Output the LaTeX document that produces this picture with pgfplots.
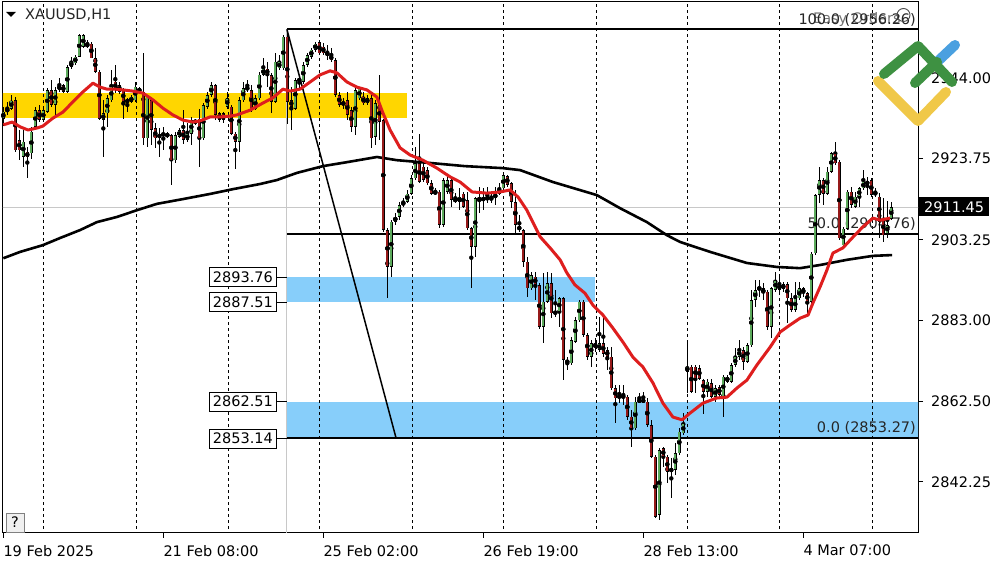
\documentclass[border=0pt]{standalone}
\usepackage{pgfplots}
\pgfplotsset{compat=1.18}
\usepackage{pgfplotstable}
\usepackage{fontspec}
\setmainfont{DejaVu Sans}
\definecolor{bullg}{RGB}{92,170,92}
\definecolor{bearr}{RGB}{150,26,26}
\definecolor{mared}{RGB}{222,30,30}
\definecolor{goldb}{RGB}{255,214,0}
\definecolor{skyb}{RGB}{135,206,250}
\definecolor{lgreen}{RGB}{62,145,66}
\definecolor{lblue}{RGB}{74,160,224}
\definecolor{lyellow}{RGB}{240,200,72}
\definecolor{lgray}{RGB}{200,200,200}
\newcommand\fs{\fontsize{14.5bp}{17bp}\selectfont}

\pgfplotstableread{
i o h l c
0 2933.8 2936.8 2932.0 2935.5
1 2935.5 2938.0 2934.6 2936.3
2 2936.3 2939.7 2935.9 2938.3
3 2938.4 2939.3 2925.4 2925.8
4 2928.4 2930.9 2923.3 2925.8
5 2924.2 2930.9 2921.6 2928.0
6 2925.4 2926.7 2918.7 2924.0
7 2925.0 2931.7 2923.7 2930.5
8 2931.7 2936.8 2930.9 2935.9
9 2935.9 2937.2 2933.0 2933.4
10 2933.4 2936.3 2933.0 2935.9
11 2935.5 2941.4 2935.1 2941.0
12 2941.0 2943.5 2936.8 2937.2
13 2937.2 2941.8 2934.2 2941.0
14 2941.0 2943.9 2940.5 2942.2
15 2942.2 2942.6 2940.1 2940.5
16 2940.5 2947.3 2940.1 2946.8
17 2946.8 2949.4 2946.4 2948.1
18 2947.7 2949.8 2947.3 2949.4
19 2949.4 2955.2 2949.2 2954.8
20 2951.9 2955.2 2951.5 2954.8
21 2952.7 2953.6 2951.5 2951.9
22 2952.7 2953.1 2949.0 2949.0
23 2949.0 2951.5 2945.2 2945.6
24 2945.6 2946.0 2933.4 2933.8
25 2933.4 2938.4 2924.2 2935.1
26 2935.1 2939.7 2931.7 2938.9
27 2938.4 2946.0 2938.0 2941.8
28 2943.1 2947.3 2940.1 2941.0
29 2942.2 2943.1 2940.1 2940.5
30 2941.0 2941.4 2933.8 2938.0
31 2938.4 2938.9 2935.5 2938.0
32 2938.0 2939.7 2937.6 2939.3
33 2938.4 2943.1 2938.0 2941.8
34 2941.4 2941.8 2940.1 2940.5
35 2940.5 2950.2 2927.1 2928.8
36 2928.8 2939.7 2926.7 2939.3
37 2938.4 2938.9 2927.1 2930.9
38 2931.3 2932.6 2926.3 2928.8
39 2930.0 2931.3 2924.2 2928.8
40 2929.6 2931.7 2925.8 2930.0
41 2930.0 2930.5 2928.8 2929.2
42 2929.6 2930.0 2917.0 2923.3
43 2923.3 2930.5 2922.5 2929.6
44 2929.2 2931.3 2928.8 2930.9
45 2930.9 2935.9 2927.5 2928.4
46 2928.4 2932.6 2927.9 2930.0
47 2930.0 2934.2 2927.1 2933.4
48 2933.4 2933.8 2932.2 2932.6
49 2933.8 2936.3 2921.6 2928.8
50 2928.8 2937.6 2928.4 2937.2
51 2936.8 2940.5 2936.3 2939.7
52 2939.7 2943.1 2939.3 2942.2
53 2942.2 2942.6 2933.4 2934.7
54 2935.1 2935.5 2933.0 2933.4
55 2935.1 2935.5 2932.6 2933.4
56 2936.8 2940.5 2936.3 2938.9
57 2936.8 2937.2 2929.6 2930.0
58 2930.0 2930.5 2921.2 2927.9
59 2927.9 2939.3 2925.4 2938.4
60 2938.4 2943.1 2938.0 2941.4
61 2941.8 2943.5 2940.6 2941.0
62 2941.0 2942.2 2935.5 2935.9
63 2936.3 2939.7 2935.9 2938.9
64 2938.9 2945.6 2938.4 2944.8
65 2944.8 2949.0 2944.4 2946.4
66 2946.4 2948.1 2941.8 2944.8
67 2944.8 2945.2 2935.1 2938.0
68 2938.0 2950.2 2937.6 2948.1
69 2946.4 2949.8 2946.0 2948.1
70 2946.4 2954.8 2946.0 2954.4
71 2954.4 2956.26 2932.5 2938.0
72 2938.4 2941.8 2930.9 2936.8
73 2936.3 2943.9 2935.9 2943.5
74 2943.9 2944.7 2941.0 2943.1
75 2943.1 2948.1 2942.6 2947.3
76 2947.3 2950.2 2946.8 2949.8
77 2949.4 2951.5 2948.9 2951.1
78 2951.1 2953.1 2950.6 2952.7
79 2953.1 2953.6 2949.8 2950.2
80 2951.9 2952.7 2949.8 2950.2
81 2950.2 2952.3 2948.5 2950.0
82 2949.8 2951.5 2948.1 2948.5
83 2948.5 2949.0 2939.3 2939.7
84 2939.7 2940.5 2936.8 2937.2
85 2938.0 2938.9 2936.3 2937.2
86 2938.4 2940.5 2933.4 2934.7
87 2935.9 2936.8 2930.5 2931.7
88 2931.7 2941.8 2929.6 2941.0
89 2938.9 2941.8 2938.5 2941.4
90 2939.3 2940.5 2937.2 2937.6
91 2937.6 2939.7 2937.2 2938.9
92 2938.9 2939.7 2926.3 2928.8
93 2929.2 2938.5 2927.1 2937.6
94 2937.2 2944.7 2928.4 2933.0
95 2933.4 2933.8 2905.3 2905.7
96 2905.7 2906.1 2888.5 2896.5
97 2896.5 2908.2 2894.0 2907.8
98 2907.8 2909.9 2907.0 2909.1
99 2909.1 2912.8 2908.2 2912.0
100 2912.0 2913.7 2911.6 2912.8
101 2912.8 2915.8 2912.4 2914.9
102 2914.9 2919.6 2914.5 2918.7
103 2918.7 2926.7 2918.3 2922.5
104 2922.5 2930.0 2917.5 2917.9
105 2921.7 2922.5 2917.9 2918.3
106 2920.8 2921.7 2917.0 2917.5
107 2917.5 2918.3 2914.5 2914.9
108 2914.9 2916.2 2914.5 2915.4
109 2915.4 2915.8 2906.1 2907.0
110 2907.0 2918.7 2906.5 2918.3
111 2915.4 2919.1 2914.9 2918.3
112 2918.3 2918.7 2911.6 2913.3
113 2913.7 2915.0 2912.4 2912.8
114 2912.8 2916.2 2910.8 2914.1
115 2914.9 2915.4 2911.2 2911.6
116 2913.3 2915.4 2905.7 2906.1
117 2906.1 2906.5 2891.0 2901.5
118 2901.5 2914.1 2899.0 2913.7
119 2913.7 2916.6 2909.9 2913.3
120 2913.3 2916.2 2910.8 2913.7
121 2913.3 2916.6 2912.4 2914.1
122 2913.4 2915.4 2912.4 2913.9
123 2913.7 2916.6 2912.0 2914.9
124 2914.9 2917.5 2914.5 2916.2
125 2916.2 2920.0 2915.8 2919.6
126 2919.3 2919.6 2916.6 2917.1
127 2917.5 2917.9 2911.2 2912.8
128 2912.8 2915.8 2904.5 2907.0
129 2906.7 2909.5 2905.3 2905.7
130 2905.7 2906.1 2896.5 2897.7
131 2897.7 2899.0 2888.9 2891.0
132 2891.0 2895.2 2890.6 2894.4
133 2894.0 2895.2 2888.1 2891.9
134 2891.9 2892.3 2880.9 2881.4
135 2881.4 2894.8 2877.2 2887.7
136 2887.7 2895.2 2887.3 2892.3
137 2892.3 2894.8 2883.5 2884.7
138 2885.1 2890.6 2883.9 2884.7
139 2885.1 2888.9 2881.4 2888.5
140 2888.5 2888.9 2867.9 2873.0
141 2873.0 2873.8 2870.5 2872.1
142 2872.1 2878.8 2871.7 2878.0
143 2877.6 2883.9 2877.2 2883.0
144 2883.0 2888.1 2882.6 2887.7
145 2887.7 2888.1 2878.8 2879.3
146 2879.3 2879.7 2873.0 2873.8
147 2873.8 2878.0 2871.3 2877.2
148 2877.2 2878.4 2875.1 2875.9
149 2875.5 2883.9 2875.1 2877.2
150 2877.2 2883.9 2873.8 2874.6
151 2875.5 2876.3 2870.5 2873.8
152 2873.8 2876.3 2865.4 2865.8
153 2865.8 2866.7 2857.0 2863.3
154 2863.3 2866.7 2862.1 2864.2
155 2864.2 2866.7 2861.6 2863.3
156 2863.7 2864.1 2857.9 2858.7
157 2858.7 2860.4 2851.1 2855.8
158 2855.8 2863.7 2855.4 2862.5
159 2862.5 2864.6 2862.1 2862.9
160 2862.9 2865.0 2862.1 2862.5
161 2862.5 2863.3 2856.2 2856.6
162 2856.6 2857.9 2848.2 2848.6
163 2848.6 2849.0 2833.1 2833.5
164 2833.9 2850.7 2832.7 2850.3
165 2850.7 2851.1 2846.1 2848.6
166 2848.6 2849.0 2841.9 2844.8
167 2845.7 2848.2 2838.1 2844.8
168 2845.3 2852.0 2844.0 2849.5
169 2849.5 2855.8 2849.0 2854.9
170 2854.5 2859.5 2854.1 2857.0
171 2870.0 2877.2 2864.6 2871.3
172 2871.3 2871.7 2864.6 2865.0
173 2871.3 2871.7 2864.6 2868.3
174 2870.9 2871.7 2867.9 2868.3
175 2867.9 2868.3 2859.5 2865.0
176 2865.0 2868.3 2863.7 2867.5
177 2867.1 2868.3 2863.3 2863.7
178 2863.7 2866.7 2862.5 2865.8
179 2866.2 2866.7 2863.7 2864.2
180 2863.7 2869.2 2858.7 2868.8
181 2867.5 2869.2 2867.1 2868.8
182 2867.5 2872.1 2867.1 2871.7
183 2871.7 2875.9 2871.3 2873.8
184 2873.8 2878.0 2873.0 2875.5
185 2875.5 2876.3 2870.5 2872.5
186 2872.5 2877.2 2872.1 2876.7
187 2876.7 2890.6 2876.3 2888.1
188 2888.1 2893.1 2886.4 2890.6
189 2891.4 2893.1 2888.9 2890.6
190 2891.0 2892.3 2888.1 2889.8
191 2890.2 2890.6 2880.5 2881.4
192 2881.4 2891.4 2878.4 2891.0
193 2890.6 2895.2 2890.2 2893.1
194 2892.1 2894.0 2890.2 2890.6
195 2890.9 2892.6 2890.2 2892.1
196 2892.1 2892.6 2882.2 2888.5
197 2888.5 2889.8 2885.1 2885.6
198 2885.6 2892.6 2885.1 2888.5
199 2888.5 2892.6 2888.1 2891.0
200 2891.0 2891.4 2888.9 2889.8
201 2889.8 2890.2 2884.7 2887.7
202 2887.7 2900.2 2887.3 2899.8
203 2899.8 2914.9 2899.4 2914.5
204 2914.5 2921.7 2912.4 2918.3
205 2918.3 2918.7 2912.0 2914.9
206 2914.9 2921.7 2914.5 2920.4
207 2920.4 2925.4 2920.0 2925.0
208 2925.0 2927.9 2922.1 2922.5
209 2922.9 2923.3 2903.2 2903.6
210 2901.9 2906.5 2901.5 2906.1
211 2906.1 2915.8 2905.7 2915.4
212 2915.4 2916.6 2911.2 2912.0
213 2911.6 2915.4 2911.2 2914.1
214 2914.1 2916.6 2911.6 2916.2
215 2916.2 2920.8 2915.8 2917.9
216 2917.5 2919.1 2914.5 2917.7
217 2918.3 2918.7 2914.1 2914.5
218 2915.4 2916.2 2914.1 2914.5
219 2914.1 2915.0 2903.6 2907.8
220 2908.6 2913.7 2902.8 2904.4
221 2904.9 2912.9 2903.6 2907.0
222 2908.6 2912.9 2908.2 2911.45
}\candles

\begin{document}
\begin{tikzpicture}[x=1bp,y=1bp]
\path[use as bounding box, fill=white] (0,0) rectangle (1000,562);
\begin{axis}[
  at={(3bp,29bp)}, anchor=south west, scale only axis,
  width=915bp, height=531bp,
  xmin=-0.08, xmax=228.68, ymin=2829.39, ymax=2963.15,
  axis line style={black, line width=1bp},
  clip mode=individual,
  xtick={0,40,80,120,160,200},
  xticklabels={19 Feb 2025, 21 Feb 08:00, 25 Feb 02:00, 26 Feb 19:00, 28 Feb 13:00, 4 Mar 07:00},
  xtick pos=bottom, xticklabel pos=lower,
  ytick={2842.25,2862.50,2883.00,2903.25,2923.75,2944.00},
  yticklabels={2842.25,2862.50,2883.00,2903.25,2923.75,2944.00},
  ytick pos=right, yticklabel pos=right,
  tick align=outside, major tick length=5bp,
  tick style={black, line width=1bp},
  x tick label style={anchor=north west, inner sep=0pt, yshift=-7bp, font=\fs},
  y tick label style={anchor=west, inner sep=0pt, xshift=8bp, font=\fs},
  every axis plot/.append style={line join=round},
]
% zones
\addplot[fill=goldb, draw=none] coordinates {(-1,2934.0) (100.9,2934.0) (100.9,2940.3) (-1,2940.3)} -- cycle;
\addplot[fill=skyb, draw=none] coordinates {(70.9,2887.51) (147.9,2887.51) (147.9,2893.76) (70.9,2893.76)} -- cycle;
\addplot[fill=skyb, draw=none] coordinates {(70.9,2853.14) (229,2853.14) (229,2862.51) (70.9,2862.51)} -- cycle;
% day separators
\pgfplotsinvokeforeach{9.93,33.2,56.2,78.9,102.2,124.9,148.2,170.9,193.9,217.2}{
  \addplot[black, line width=0.8bp, dash pattern=on 3bp off 3bp] coordinates {(#1,2829) (#1,2964)};
}
% gray lines
\addplot[lgray, line width=1bp] coordinates {(-1,2911.45) (229,2911.45)};
\addplot[lgray, line width=1bp] coordinates {(70.9,2829) (70.9,2956.26)};
% long MA
\addplot[black, line width=2.6bp] coordinates {(0,2898.6)(4.2,2900.2)(9.9,2901.9)(14.2,2903.7)(19.2,2905.7)(23.4,2907.7)(28.4,2909.0)(33.4,2910.7)(38.4,2912.3)(44.9,2913.5)(51.7,2914.8)(57.4,2916.0)(64.2,2917.3)(68.4,2918.3)(73.4,2920.1)(79.9,2921.8)(85.9,2922.8)(93.4,2924.1)(98.4,2923.3)(106.7,2922.6)(115.4,2921.8)(124.9,2921.3)(129.2,2920.8)(137.4,2917.8)(148.4,2914.5)(154.2,2911.2)(160.9,2907.7)(165.9,2904.4)(169.2,2902.7)(176.7,2900.2)(185.9,2897.4)(193.4,2896.4)(199.2,2896.1)(204.2,2896.9)(210.9,2898.2)(217.4,2899.2)(222.2,2899.4)};
% fibonacci
\addplot[black, line width=2bp] coordinates {(70.9,2956.26) (229,2956.26)};
\addplot[black, line width=2bp] coordinates {(70.9,2904.76) (229,2904.76)};
\addplot[black, line width=2bp] coordinates {(70.9,2853.27) (229,2853.27)};
\addplot[black, line width=1.5bp] coordinates {(70.9,2956.26) (98.2,2853.27)};
\node[anchor=south west, inner sep=0pt, font=\fs, text=black!55] at (axis cs:202.4,2956.9) {Easy Orders};
\node[anchor=south east, inner sep=0pt, font=\fs, text=black!85] at (axis cs:228.2,2956.9) {100.0 (2956.26)};
\node[anchor=south east, inner sep=0pt, font=\fs, text=black!85] at (axis cs:228.2,2905.6) {50.0 (2904.76)};
\node[anchor=south east, inner sep=0pt, font=\fs, text=black!85] at (axis cs:228.2,2854.1) {0.0 (2853.27)};
% wicks
\addplot[only marks, mark=none, error bars/.cd, y dir=both, y explicit, error mark=none,
  error bar style={line width=1bp, draw=black}]
  table[x=i, y expr={(\thisrow{h}+\thisrow{l})/2}, y error expr={(\thisrow{h}-\thisrow{l})/2}] {\candles};
% bull bodies
\addplot[only marks, mark=none, restrict y to domain=2800:3000, error bars/.cd, y dir=both, y explicit, error mark=none,
  error bar style={line width=3.4bp, draw=black}]
  table[x=i, y expr={\thisrow{c}>=\thisrow{o} ? (\thisrow{o}+\thisrow{c})/2 : 0}, y error expr={max(abs(\thisrow{c}-\thisrow{o})/2,0.15)}] {\candles};
\addplot[only marks, mark=none, restrict y to domain=2800:3000, error bars/.cd, y dir=both, y explicit, error mark=none,
  error bar style={line width=2.1bp, draw=bullg}]
  table[x=i, y expr={\thisrow{c}>=\thisrow{o} ? (\thisrow{o}+\thisrow{c})/2 : 0}, y error expr={max(abs(\thisrow{c}-\thisrow{o})/2-0.16,0)}] {\candles};
% bear bodies
\addplot[only marks, mark=none, restrict y to domain=2800:3000, error bars/.cd, y dir=both, y explicit, error mark=none,
  error bar style={line width=3.4bp, draw=black}]
  table[x=i, y expr={\thisrow{c}<\thisrow{o} ? (\thisrow{o}+\thisrow{c})/2 : 0}, y error expr={max(abs(\thisrow{c}-\thisrow{o})/2,0.15)}] {\candles};
\addplot[only marks, mark=none, restrict y to domain=2800:3000, error bars/.cd, y dir=both, y explicit, error mark=none,
  error bar style={line width=2.1bp, draw=bearr}]
  table[x=i, y expr={\thisrow{c}<\thisrow{o} ? (\thisrow{o}+\thisrow{c})/2 : 0}, y error expr={max(abs(\thisrow{c}-\thisrow{o})/2-0.16,0)}] {\candles};
% short MA
\addplot[mared, line width=3bp] coordinates {(0,2932.2)(2.2,2932.9)(4.2,2931.7)(6.2,2930.9)(8.4,2931.4)(9.9,2931.9)(12.4,2933.9)(14.9,2935.4)(17.4,2938.0)(19.9,2940.5)(22.4,2942.7)(24.2,2941.7)(25.9,2941.2)(27.9,2941.2)(29.9,2941.0)(32.4,2940.7)(34.9,2940.2)(37.4,2938.5)(39.9,2936.4)(42.4,2934.7)(44.9,2933.4)(47.4,2932.9)(49.2,2933.2)(51.7,2934.2)(54.2,2934.2)(56.7,2934.4)(58.4,2934.7)(61.7,2935.9)(64.9,2937.7)(67.4,2939.0)(69.9,2941.2)(71.7,2940.7)(74.2,2941.2)(76.7,2943.0)(79.2,2944.8)(81.7,2945.8)(83.4,2945.3)(85.9,2943.0)(88.4,2941.7)(90.9,2941.0)(93.4,2939.2)(94.9,2935.2)(96.7,2930.9)(99.2,2926.4)(101.7,2924.6)(104.9,2923.3)(108.4,2921.3)(111.7,2919.1)(114.2,2917.8)(117.2,2915.3)(120.9,2915.0)(124.2,2915.3)(126.7,2915.8)(128.7,2914.0)(130.9,2910.7)(134.2,2904.0)(136.7,2901.2)(139.2,2898.2)(140.9,2894.9)(142.9,2891.9)(145.4,2889.8)(147.4,2886.8)(149.9,2884.3)(152.4,2881.0)(154.9,2877.5)(157.4,2873.7)(159.9,2871.2)(162.4,2867.2)(164.9,2862.1)(167.4,2858.6)(169.7,2857.9)(171.7,2859.6)(174.9,2862.1)(178.4,2863.4)(180.9,2863.6)(183.4,2865.9)(185.9,2867.9)(188.4,2871.7)(191.7,2876.2)(194.2,2880.0)(196.7,2881.8)(199.2,2883.5)(201.2,2884.3)(202.4,2887.3)(204.2,2891.4)(205.9,2895.6)(207.4,2899.9)(209.9,2901.2)(212.4,2903.9)(214.9,2906.5)(217.4,2908.7)(219.2,2908.2)(221.7,2908.7)};
% price boxes on the left
\pgfplotsinvokeforeach{2893.76,2887.51,2862.51,2853.14}{
  \draw[black, line width=1bp] (axis cs:68.4,#1) -- (axis cs:70.9,#1);
  \node[draw=black, fill=white, line width=1bp, inner sep=0pt, minimum width=67bp, minimum height=19bp, font=\fs, anchor=east] at (axis cs:68.4,#1) {#1};
}
\end{axis}
% current price label
\node[fill=black, text=white, anchor=west, inner sep=0pt, minimum width=70bp, minimum height=19bp, font=\fs] at (919,355) {2911.45};
% symbol title
\fill[black] (6,550) -- (16,550) -- (11,545) -- cycle;
\node[anchor=west, inner sep=0pt, font=\fs, text=black!85] at (25,547) {XAUUSD,H1};
% help button
\draw[gray, fill=gray!12, line width=0.8bp] (6,30) rectangle (24,49);
\node[font=\fs, inner sep=0pt] at (15,39.5) {?};
% easy orders circle
\draw[black!70, line width=0.9bp] (903.5,547) circle (6.5);
% logo
\draw[lyellow, line width=10bp, line cap=round, line join=round] (878,481) -- (918,441) -- (946,470);
\draw[lblue, line width=10bp, line cap=round] (937,500) -- (955,517);
\draw[lgreen, line width=10bp, line cap=round, line join=round] (884,488) -- (918,516) -- (952,480);
\draw[lgreen, line width=10bp, line cap=round] (915,479) -- (937,500);
\end{tikzpicture}
\end{document}
